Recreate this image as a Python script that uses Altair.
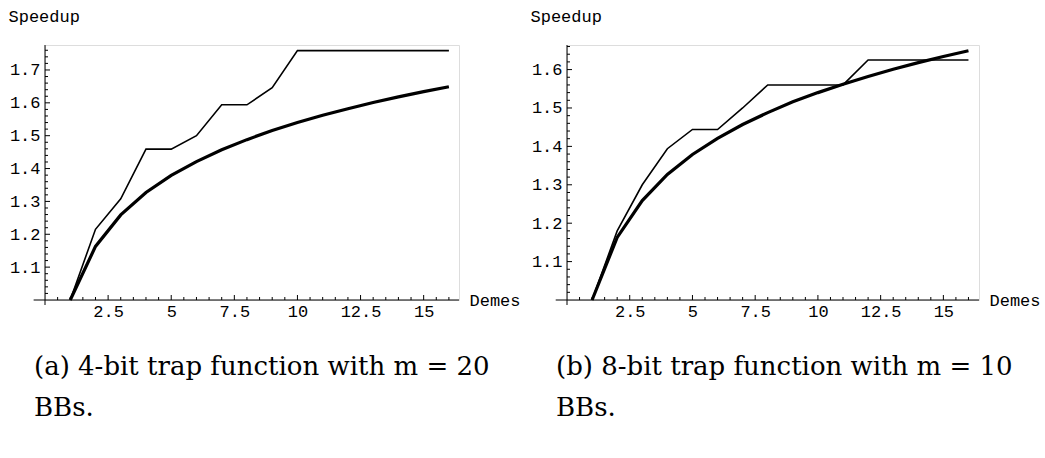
import altair as alt
import pandas as pd

# ---------------- data ----------------
demes = list(range(1, 17))
speedup_a = [1.000, 1.215, 1.308, 1.459, 1.459, 1.500, 1.594, 1.594,
             1.646, 1.759, 1.759, 1.759, 1.759, 1.759, 1.759, 1.759]
speedup_b = [1.000, 1.180, 1.300, 1.394, 1.444, 1.444, 1.500, 1.560,
             1.560, 1.560, 1.560, 1.625, 1.625, 1.625, 1.625, 1.625]
model = [1.000, 1.163, 1.259, 1.327, 1.379, 1.421, 1.457, 1.488,
         1.516, 1.540, 1.562, 1.582, 1.601, 1.618, 1.634, 1.649]

x_major = [2.5, 5, 7.5, 10, 12.5, 15]
x_minor = [0.5, 1, 1.5, 2, 3, 3.5, 4, 4.5, 5.5, 6, 6.5, 7, 8, 8.5, 9, 9.5,
           10.5, 11, 11.5, 12, 13, 13.5, 14, 14.5, 15.5, 16]
y_major_a = [1.1, 1.2, 1.3, 1.4, 1.5, 1.6, 1.7]
y_major_b = [1.1, 1.2, 1.3, 1.4, 1.5, 1.6]
y_minor_a = [1.02, 1.04, 1.06, 1.08, 1.12, 1.14, 1.16, 1.18, 1.22, 1.24, 1.26, 1.28,
             1.32, 1.34, 1.36, 1.38, 1.42, 1.44, 1.46, 1.48, 1.52, 1.54, 1.56, 1.58,
             1.62, 1.64, 1.66, 1.68, 1.72, 1.74, 1.76]
y_minor_b = [v for v in y_minor_a if v < 1.665]

captions = ["(a) 4-bit trap function with m = 20\nBBs.",
            "(b) 8-bit trap function with m = 10\nBBs."]

# ---------------- style ----------------
MONO = "Liberation Mono"
SERIF = "DejaVu Serif"
H = 255
X_MIN_AXIS = -0.45


def panel(thin, y_top, y_major, y_minor, x_max, width, caption):
    df = pd.DataFrame({"Demes": demes, "measured": thin, "model": model})
    xs = alt.Scale(domain=[0, x_max], nice=False, zero=False)
    ys = alt.Scale(domain=[1.0, y_top], nice=False, zero=False)

    x_axis = alt.Axis(values=x_major, domain=False, ticks=False, tickSize=0, grid=False,
                      labelFont=MONO, labelFontSize=17, labelColor="black",
                      labelPadding=3, labelExpr="'' + datum.value", labelFlush=False,
                      title="Demes", titleFont=MONO, titleFontSize=17,
                      titleFontWeight="normal", titleColor="black",
                      titleX=width + 10, titleY=0, titleAlign="left",
                      titleBaseline="middle", titleAngle=0)
    y_axis = alt.Axis(values=y_major, domain=False, ticks=False, tickSize=0, grid=False,
                      labelFont=MONO, labelFontSize=17, labelColor="black",
                      labelPadding=5, format=".1f", labelFlush=False,
                      title="Speedup", titleFont=MONO, titleFontSize=17,
                      titleFontWeight="normal", titleColor="black",
                      titleX=-37, titleY=-36.5, titleAlign="left",
                      titleBaseline="top", titleAngle=0)

    base = alt.Chart(df)
    thin_line = base.mark_line(color="black", strokeWidth=1.6).encode(
        x=alt.X("Demes:Q", scale=xs, axis=x_axis),
        y=alt.Y("measured:Q", scale=ys, axis=y_axis),
    )
    thick_line = base.mark_line(color="black", strokeWidth=3.2).encode(
        x="Demes:Q", y="model:Q"
    )

    one = pd.DataFrame({"k": [0]})
    x_axis_line = alt.Chart(one).mark_rule(color="black", strokeWidth=1).encode(
        x=alt.datum(X_MIN_AXIS), x2=alt.datum(x_max), y=alt.datum(1.0)
    )
    y_axis_line = alt.Chart(one).mark_rule(color="black", strokeWidth=1).encode(
        x=alt.datum(0), y=alt.datum(y_top), y2=alt.value(H + 5)
    )

    xmaj = alt.Chart(pd.DataFrame({"t": x_major})).mark_rule(color="black", strokeWidth=1).encode(
        x="t:Q", y=alt.value(H), y2=alt.value(H - 5))
    xmin = alt.Chart(pd.DataFrame({"t": x_minor})).mark_rule(color="black", strokeWidth=1).encode(
        x="t:Q", y=alt.value(H), y2=alt.value(H - 3))
    ymaj = alt.Chart(pd.DataFrame({"t": y_major})).mark_rule(color="black", strokeWidth=1).encode(
        y="t:Q", x=alt.value(0), x2=alt.value(5))
    ymin = alt.Chart(pd.DataFrame({"t": y_minor})).mark_rule(color="black", strokeWidth=1).encode(
        y="t:Q", x=alt.value(0), x2=alt.value(3))

    cap = alt.Chart(pd.DataFrame({"c": [caption]})).mark_text(
        align="left", baseline="top", font=SERIF, fontSize=26, color="black",
        lineBreak="\n", lineHeight=41
    ).encode(text="c:N", x=alt.value(-11), y=alt.value(309))

    return alt.layer(x_axis_line, y_axis_line, xmin, xmaj, ymin, ymaj,
                     thin_line, thick_line, cap).properties(width=width, height=H)


left = panel(speedup_a, 1.776, y_major_a, y_minor_a, 16.4, 414, captions[0])
right = panel(speedup_b, 1.664, y_major_b, y_minor_b, 16.42, 412, captions[1])

chart = alt.hconcat(left, right, spacing=108, bounds="flush").properties(
    padding={"left": 7, "top": 7, "right": 0, "bottom": 0}
).configure_view(stroke=None).configure(background="white")

chart.save("out.html", embed_options={"renderer": "svg", "actions": False})
